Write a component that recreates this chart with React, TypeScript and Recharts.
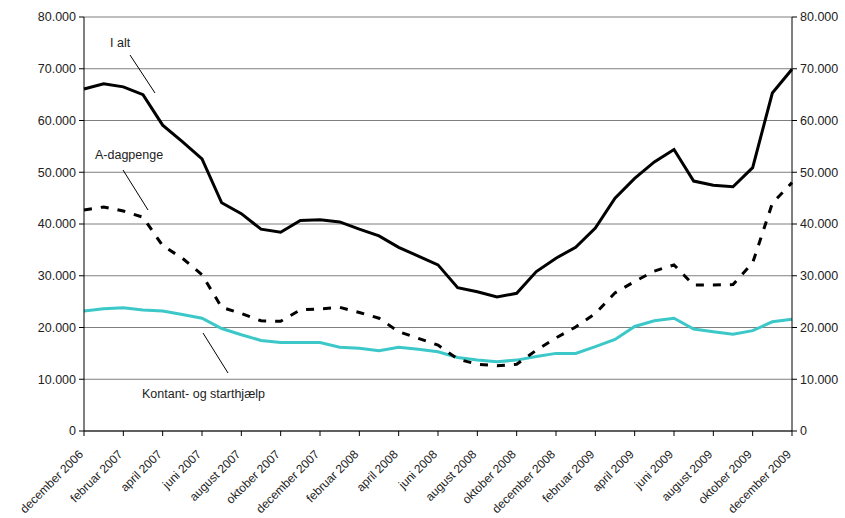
import React from 'react';
import { LineChart, Line, XAxis, YAxis, CartesianGrid } from 'recharts';

const months = [
  'december 2006', 'januar 2007', 'februar 2007', 'marts 2007', 'april 2007', 'maj 2007',
  'juni 2007', 'juli 2007', 'august 2007', 'september 2007', 'oktober 2007', 'november 2007',
  'december 2007', 'januar 2008', 'februar 2008', 'marts 2008', 'april 2008', 'maj 2008',
  'juni 2008', 'juli 2008', 'august 2008', 'september 2008', 'oktober 2008', 'november 2008',
  'december 2008', 'januar 2009', 'februar 2009', 'marts 2009', 'april 2009', 'maj 2009',
  'juni 2009', 'juli 2009', 'august 2009', 'september 2009', 'oktober 2009', 'november 2009',
  'december 2009',
];

const iAlt = [
  66100, 67100, 66500, 65000, 59100, 55900, 52600, 44100, 42000, 39000, 38400, 40700,
  40800, 40400, 39000, 37700, 35500, 33800, 32100, 27700, 26900, 25900, 26600, 30800,
  33400, 35500, 39200, 45000, 48800, 52000, 54400, 48300, 47500, 47200, 50900, 65300,
  69900,
];

const aDagpenge = [
  42700, 43300, 42500, 41300, 35800, 33400, 30200, 23900, 22700, 21300, 21200, 23400,
  23600, 23900, 22900, 21800, 19200, 17900, 16600, 13900, 12900, 12600, 12900, 15600,
  18000, 20100, 22700, 26700, 28900, 30900, 32100, 28200, 28200, 28300, 32500, 44000,
  48000,
];

const kontant = [
  23200, 23600, 23800, 23400, 23200, 22500, 21800, 19800, 18600, 17500, 17100, 17100,
  17100, 16200, 16000, 15500, 16200, 15800, 15300, 14200, 13700, 13400, 13700, 14400,
  15000, 15000, 16300, 17700, 20200, 21300, 21800, 19700, 19200, 18700, 19400, 21100,
  21600,
];

const yTicks = [0, 10000, 20000, 30000, 40000, 50000, 60000, 70000, 80000];

const data = months.map((m, i) => ({
  month: m,
  iAlt: iAlt[i],
  aDagpenge: aDagpenge[i],
  kontant: kontant[i],
}));

const FONT = '"Liberation Sans", Arial, sans-serif';

const fmt = (v: number) => (v === 0 ? '0' : `${v / 1000}.000`);

const XTick = (props: any) => {
  const { x, y, payload } = props;
  return (
    <g transform={`translate(${x},${y + 17}) rotate(-45)`}>
      <text x={0} y={0} textAnchor="end" fontSize={12} fill="#222" fontFamily={FONT}>
        {payload.value}
      </text>
    </g>
  );
};

export default function App() {
  return (
    <div style={{ position: 'absolute', left: 0, top: 0, width: 845, height: 518, background: '#fff' }}>
      <LineChart
        width={845}
        height={518}
        data={data}
        margin={{ top: 17, right: 8, left: 24, bottom: 7 }}
      >
        <CartesianGrid vertical={false} stroke="#7f7f7f" yAxisId="left" />
        <XAxis
          dataKey="month"
          interval={1}
          height={80}
          tick={<XTick />}
          tickSize={5}
          axisLine={{ stroke: '#000' }}
          tickLine={{ stroke: '#000' }}
        />
        <YAxis
          yAxisId="left"
          domain={[0, 80000]}
          ticks={yTicks}
          tickFormatter={fmt}
          width={60}
          tickSize={5}
          tickMargin={3}
          axisLine={{ stroke: '#000' }}
          tickLine={{ stroke: '#000' }}
          tick={{ fontSize: 12.5, fill: '#222', fontFamily: FONT }}
        />
        <YAxis
          yAxisId="right"
          orientation="right"
          domain={[0, 80000]}
          ticks={yTicks}
          tickFormatter={fmt}
          width={45}
          tickSize={5}
          tickMargin={3}
          axisLine={{ stroke: '#000' }}
          tickLine={{ stroke: '#000' }}
          tick={{ fontSize: 12.5, fill: '#222', fontFamily: FONT }}
        />
        <Line
          yAxisId="left"
          type="linear"
          dataKey="kontant"
          stroke="#3cc8c8"
          strokeWidth={3}
          dot={false}
          isAnimationActive={false}
        />
        <Line
          yAxisId="left"
          type="linear"
          dataKey="aDagpenge"
          stroke="#000"
          strokeWidth={3}
          strokeDasharray="8 9"
          dot={false}
          isAnimationActive={false}
        />
        <Line
          yAxisId="right"
          type="linear"
          dataKey="iAlt"
          stroke="#000"
          strokeWidth={3}
          dot={false}
          isAnimationActive={false}
        />
      </LineChart>
      {/* annotations */}
      <svg
        width={845}
        height={518}
        style={{ position: 'absolute', left: 0, top: 0, pointerEvents: 'none' }}
        fontFamily={FONT}
        fontSize={12.5}
      >
        <text x={110} y={47} fill="#222">I alt</text>
        <line x1={130} y1={55} x2={155} y2={93} stroke="#000" strokeWidth={1} />
        <text x={95} y={159} fill="#222">A-dagpenge</text>
        <line x1={123} y1={170} x2={148} y2={210} stroke="#000" strokeWidth={1} />
        <text x={142} y={398} fill="#222">Kontant- og starthjælp</text>
        <line x1={203} y1={333} x2={228} y2={373} stroke="#000" strokeWidth={1} />
      </svg>
    </div>
  );
}
